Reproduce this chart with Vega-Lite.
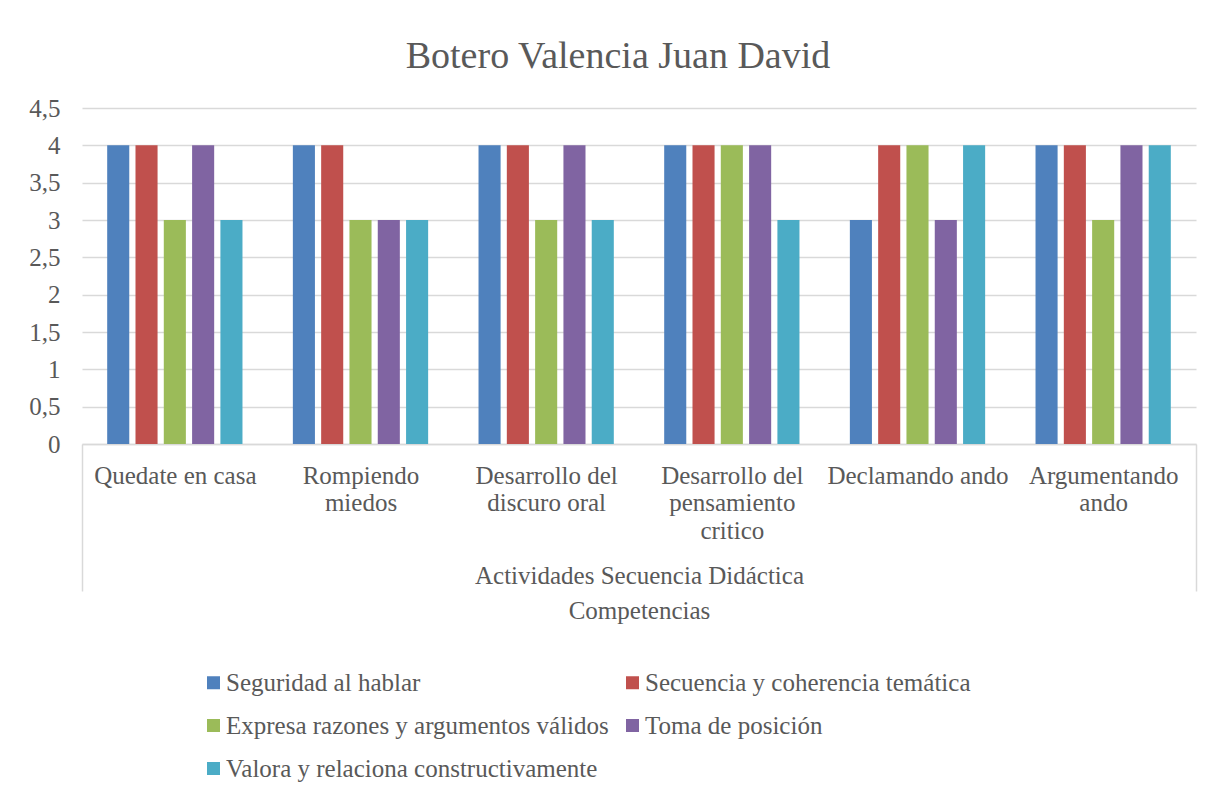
{
  "$schema": "https://vega.github.io/schema/vega-lite/v6.json",
  "width": 1114,
  "height": 336,
  "autosize": {"type": "none"},
  "padding": {"left": 82, "top": 108, "right": 15, "bottom": 352},
  "background": "white",
  "title": {
    "text": "Botero Valencia Juan David",
    "font": "Liberation Serif",
    "fontSize": 38,
    "fontWeight": "normal",
    "color": "#595959",
    "anchor": "middle",
    "frame": "group",
    "dx": -21,
    "offset": -10,
    "baseline": "alphabetic"
  },
  "data": {
    "values": [
      {"actividad": "Quedate en casa", "competencia": "Seguridad al hablar", "valor": 4},
      {"actividad": "Quedate en casa", "competencia": "Secuencia y coherencia temática", "valor": 4},
      {"actividad": "Quedate en casa", "competencia": "Expresa razones y argumentos válidos", "valor": 3},
      {"actividad": "Quedate en casa", "competencia": "Toma de posición", "valor": 4},
      {"actividad": "Quedate en casa", "competencia": "Valora y relaciona constructivamente", "valor": 3},
      {"actividad": "Rompiendo miedos", "competencia": "Seguridad al hablar", "valor": 4},
      {"actividad": "Rompiendo miedos", "competencia": "Secuencia y coherencia temática", "valor": 4},
      {"actividad": "Rompiendo miedos", "competencia": "Expresa razones y argumentos válidos", "valor": 3},
      {"actividad": "Rompiendo miedos", "competencia": "Toma de posición", "valor": 3},
      {"actividad": "Rompiendo miedos", "competencia": "Valora y relaciona constructivamente", "valor": 3},
      {"actividad": "Desarrollo del discuro oral", "competencia": "Seguridad al hablar", "valor": 4},
      {"actividad": "Desarrollo del discuro oral", "competencia": "Secuencia y coherencia temática", "valor": 4},
      {"actividad": "Desarrollo del discuro oral", "competencia": "Expresa razones y argumentos válidos", "valor": 3},
      {"actividad": "Desarrollo del discuro oral", "competencia": "Toma de posición", "valor": 4},
      {"actividad": "Desarrollo del discuro oral", "competencia": "Valora y relaciona constructivamente", "valor": 3},
      {"actividad": "Desarrollo del pensamiento critico", "competencia": "Seguridad al hablar", "valor": 4},
      {"actividad": "Desarrollo del pensamiento critico", "competencia": "Secuencia y coherencia temática", "valor": 4},
      {"actividad": "Desarrollo del pensamiento critico", "competencia": "Expresa razones y argumentos válidos", "valor": 4},
      {"actividad": "Desarrollo del pensamiento critico", "competencia": "Toma de posición", "valor": 4},
      {"actividad": "Desarrollo del pensamiento critico", "competencia": "Valora y relaciona constructivamente", "valor": 3},
      {"actividad": "Declamando ando", "competencia": "Seguridad al hablar", "valor": 3},
      {"actividad": "Declamando ando", "competencia": "Secuencia y coherencia temática", "valor": 4},
      {"actividad": "Declamando ando", "competencia": "Expresa razones y argumentos válidos", "valor": 4},
      {"actividad": "Declamando ando", "competencia": "Toma de posición", "valor": 3},
      {"actividad": "Declamando ando", "competencia": "Valora y relaciona constructivamente", "valor": 4},
      {"actividad": "Argumentando ando", "competencia": "Seguridad al hablar", "valor": 4},
      {"actividad": "Argumentando ando", "competencia": "Secuencia y coherencia temática", "valor": 4},
      {"actividad": "Argumentando ando", "competencia": "Expresa razones y argumentos válidos", "valor": 3},
      {"actividad": "Argumentando ando", "competencia": "Toma de posición", "valor": 4},
      {"actividad": "Argumentando ando", "competencia": "Valora y relaciona constructivamente", "valor": 4}
    ]
  },
  "mark": {"type": "bar"},
  "encoding": {
    "x": {
      "field": "actividad",
      "type": "nominal",
      "sort": ["Quedate en casa", "Rompiendo miedos", "Desarrollo del discuro oral", "Desarrollo del pensamiento critico", "Declamando ando", "Argumentando ando"],
      "scale": {"paddingInner": 0, "paddingOuter": 0},
      "axis": {
        "title": ["Actividades Secuencia Didáctica", "Competencias"],
        "titleFont": "Liberation Serif",
        "titleFontSize": 25,
        "titleFontWeight": "normal",
        "titleColor": "#595959",
        "titleLineHeight": 35,
        "titleBaseline": "alphabetic",
        "titleY": 139,
        "labelAngle": 0,
        "labelFont": "Liberation Serif",
        "labelFontSize": 25,
        "labelColor": "#595959",
        "labelBaseline": "alphabetic",
        "labelLineHeight": 27.5,
        "labelPadding": -108,
        "labelLimit": 400,
        "labelExpr": "datum.label == 'Rompiendo miedos' ? ['Rompiendo', 'miedos'] : datum.label == 'Desarrollo del discuro oral' ? ['Desarrollo del', 'discuro oral'] : datum.label == 'Desarrollo del pensamiento critico' ? ['Desarrollo del', 'pensamiento', 'critico'] : datum.label == 'Argumentando ando' ? ['Argumentando', 'ando'] : datum.label",
        "tickBand": "extent",
        "tickSize": 147,
        "tickColor": "#d9d9d9",
        "tickWidth": 1.5,
        "tickOpacity": {"condition": {"test": "datum.extra || datum.index === 1", "value": 1}, "value": 0},
        "domainColor": "#d9d9d9",
        "domainWidth": 1.5
      }
    },
    "xOffset": {
      "field": "competencia",
      "type": "nominal",
      "sort": ["Seguridad al hablar", "Secuencia y coherencia temática", "Expresa razones y argumentos válidos", "Toma de posición", "Valora y relaciona constructivamente"],
      "scale": {"paddingInner": 0.22, "paddingOuter": 0.89}
    },
    "y": {
      "field": "valor",
      "type": "quantitative",
      "scale": {"domain": [0, 4.5]},
      "axis": {
        "title": null,
        "values": [0, 0.5, 1, 1.5, 2, 2.5, 3, 3.5, 4, 4.5],
        "labelExpr": "replace(toString(datum.value), '.', ',')",
        "domain": false,
        "ticks": false,
        "grid": true,
        "gridColor": "#d9d9d9",
        "gridWidth": 1.5,
        "labelPadding": 22,
        "labelFont": "Liberation Serif",
        "labelFontSize": 25,
        "labelColor": "#595959"
      }
    },
    "color": {
      "field": "competencia",
      "type": "nominal",
      "sort": ["Seguridad al hablar", "Secuencia y coherencia temática", "Expresa razones y argumentos válidos", "Toma de posición", "Valora y relaciona constructivamente"],
      "scale": {
        "domain": ["Seguridad al hablar", "Secuencia y coherencia temática", "Expresa razones y argumentos válidos", "Toma de posición", "Valora y relaciona constructivamente"],
        "range": ["#4F81BD", "#C0504D", "#9BBB59", "#8064A2", "#4BACC6"]
      },
      "legend": {
        "orient": "none",
        "legendX": 119,
        "legendY": 562,
        "direction": "horizontal",
        "columns": 2,
        "title": null,
        "symbolType": "square",
        "symbolSize": 169,
        "symbolStrokeWidth": 0,
        "labelFont": "Liberation Serif",
        "labelFontSize": 25,
        "labelColor": "#595959",
        "labelOffset": 0,
        "columnPadding": 11,
        "rowPadding": 17,
        "labelLimit": 600,
        "padding": 0
      }
    }
  },
  "config": {"view": {"stroke": null}}
}
